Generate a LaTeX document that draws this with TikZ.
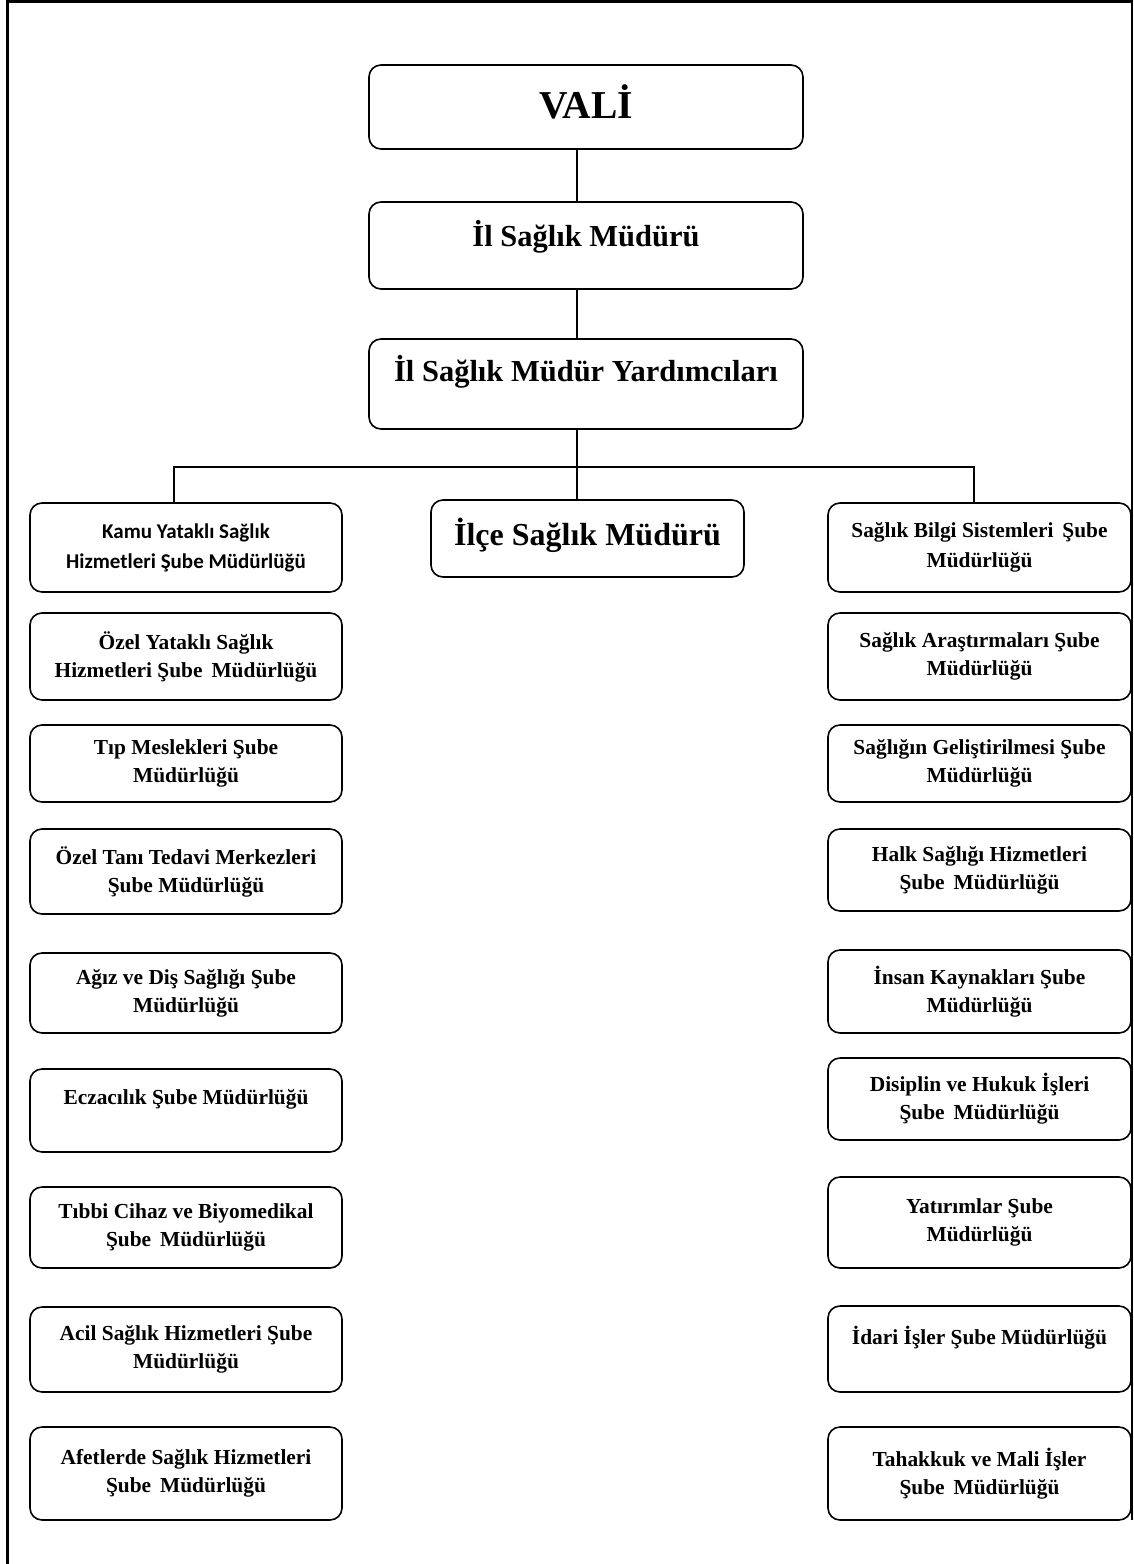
\documentclass[tikz,border=0pt]{standalone}
\usepackage{fontspec}
\setmainfont{Liberation Serif}
\newfontfamily\calib{Carlito}
\newcommand{\lift}[2]{\raisebox{#1}[\height][\depth]{#2}}
\begin{document}
\begin{tikzpicture}[x=1pt,y=-1pt,
  unit/.style={draw, line width=1.6pt, rounded corners=12pt, inner sep=0pt, align=center, font=\bfseries\fontsize{21.4}{28}\selectfont},
  big/.style={unit, minimum width=434pt, font=\bfseries\fontsize{30.5}{34}\selectfont},
  lbox/.style={unit, minimum width=312pt},
  rbox/.style={unit, minimum width=303pt},
  link/.style={line width=1.3pt}
]
\useasboundingbox (0,0) rectangle (1133,1564);
% frame
\draw[line width=2.4pt] (7.5,1564) -- (7.5,1.5) -- (1132,1.5) -- (1132,1520);

% top chain
\node[big, minimum height=84pt, font=\bfseries\fontsize{39.5}{42}\selectfont] (vali) at (586,107) {\lift{5pt}{VALİ}};
\node[big, minimum height=87pt] (ism) at (586,245.5) {\lift{8.5pt}{İl Sağlık Müdürü}};
\node[big, minimum height=90pt] (ismy) at (586,384) {\lift{12pt}{İl Sağlık Müdür Yardımcıları}};
\node[unit, minimum width=313pt, minimum height=77pt, font=\bfseries\fontsize{32}{34}\selectfont] (ilce) at (587.5,538.5) {\lift{3.5pt}{İlçe Sağlık Müdürü}};

% left column
\node[lbox, minimum height=89pt, font=\calib\bfseries\fontsize{21}{30}\selectfont] (l1) at (186,547.5) {Kamu Yataklı Sağlık\\Hizmetleri Şube Müdürlüğü};
\node[lbox, minimum height=87pt] (l2) at (186,656.5) {Özel Yataklı Sağlık\\Hizmetleri Şube\, Müdürlüğü};
\node[lbox, minimum height=77pt] (l3) at (186,763.5) {Tıp Meslekleri Şube\\Müdürlüğü};
\node[lbox, minimum height=85pt] (l4) at (186,871.5) {Özel Tanı Tedavi Merkezleri\\Şube Müdürlüğü};
\node[lbox, minimum height=80pt] (l5) at (186,993) {Ağız ve Diş Sağlığı Şube\\Müdürlüğü};
\node[lbox, minimum height=83pt] (l6) at (186,1110.5) {Eczacılık Şube Müdürlüğü\\\mbox{}};
\node[lbox, minimum height=81pt] (l7) at (186,1227.5) {Tıbbi Cihaz ve Biyomedikal\\Şube\, Müdürlüğü};
\node[lbox, minimum height=85pt] (l8) at (186,1349.5) {Acil Sağlık Hizmetleri Şube\\Müdürlüğü};
\node[lbox, minimum height=93pt] (l9) at (186,1473.5) {Afetlerde Sağlık Hizmetleri\\Şube\, Müdürlüğü};

% right column
\node[rbox, minimum height=89pt, font=\bfseries\fontsize{21.4}{30}\selectfont] (r1) at (979.5,547.5) {Sağlık Bilgi Sistemleri\, Şube\\Müdürlüğü};
\node[rbox, minimum height=87pt] (r2) at (979.5,656.5) {Sağlık Araştırmaları Şube\\Müdürlüğü};
\node[rbox, minimum height=77pt] (r3) at (979.5,763.5) {Sağlığın Geliştirilmesi Şube\\Müdürlüğü};
\node[rbox, minimum height=82pt] (r4) at (979.5,870) {Halk Sağlığı Hizmetleri\\Şube\, Müdürlüğü};
\node[rbox, minimum height=83pt] (r5) at (979.5,991.5) {İnsan Kaynakları Şube\\Müdürlüğü};
\node[rbox, minimum height=82pt] (r6) at (979.5,1099) {Disiplin ve Hukuk İşleri\\Şube\, Müdürlüğü};
\node[rbox, minimum height=91pt] (r7) at (979.5,1222.5) {Yatırımlar Şube\\Müdürlüğü};
\node[rbox, minimum height=86pt] (r8) at (979.5,1349) {İdari İşler Şube Müdürlüğü\\\mbox{}};
\node[rbox, minimum height=93pt] (r9) at (979.5,1473.5) {Tahakkuk ve Mali İşler\\Şube\, Müdürlüğü};

% connectors
\coordinate (bus) at (577,467);
\draw[link] (vali.south -| bus) -- (ism.north -| bus);
\draw[link] (ism.south -| bus) -- (ismy.north -| bus);
\draw[link] (ismy.south -| bus) -- (bus);
\draw[link] (l1.north -| 174,0) |- (bus) -| (r1.north -| 974,0);
\draw[link] (bus) -- (ilce.north -| bus);
\end{tikzpicture}
\end{document}
